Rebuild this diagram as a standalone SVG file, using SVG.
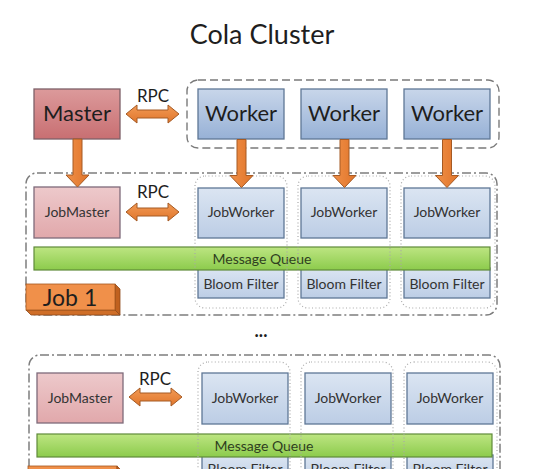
<svg xmlns="http://www.w3.org/2000/svg" width="536" height="469" viewBox="0 0 536 469">
<style>
text{font-family:Lato,"Open Sans","Liberation Sans",sans-serif;text-anchor:middle;fill:#1e1e1e}
.title{font-size:27px}
.big{font-size:22px}
.rpc{font-size:17px}
.sm{font-size:14px;fill:#333}
.job{font-size:23px;text-anchor:middle}
.master{fill:url(#gMaster);stroke:#7d6068;stroke-width:1.3}
.worker{fill:url(#gWorker);stroke:#5f7796;stroke-width:1.3}
.jm{fill:url(#gJM);stroke:#7e6a7a;stroke-width:1.3}
.jw{fill:url(#gJW);stroke:#5f7796;stroke-width:1.3}
.mq{fill:url(#gMQ);stroke:#5f8a3a;stroke-width:1.2}
.dash{fill:none;stroke:#7a7a7a;stroke-width:1.4;stroke-dasharray:8 4}
.dashdot{fill:none;stroke:#7d7d7d;stroke-width:1.5;stroke-dasharray:9 3 2 3}
.dot{fill:none;stroke:#a9a9a9;stroke-width:1.2;stroke-dasharray:1 2.4}
.arr{fill:url(#gArr);stroke:#a55a24;stroke-width:1}
</style>
<defs>
<linearGradient id="gMaster" x1="0" y1="0" x2="0" y2="1"><stop offset="0" stop-color="#dc9a9b"/><stop offset="1" stop-color="#c86f72"/></linearGradient>
<linearGradient id="gWorker" x1="0" y1="0" x2="0" y2="1"><stop offset="0" stop-color="#c8d6ea"/><stop offset="1" stop-color="#97b1d6"/></linearGradient>
<linearGradient id="gJM" x1="0" y1="0" x2="0" y2="1"><stop offset="0" stop-color="#edc9cb"/><stop offset="1" stop-color="#e1a8ab"/></linearGradient>
<linearGradient id="gJW" x1="0" y1="0" x2="0" y2="1"><stop offset="0" stop-color="#dbe5f2"/><stop offset="1" stop-color="#bccde5"/></linearGradient>
<linearGradient id="gMQ" x1="0" y1="0" x2="0" y2="1"><stop offset="0" stop-color="#bde582"/><stop offset="1" stop-color="#8ccb4c"/></linearGradient>
<linearGradient id="gArr" x1="0" y1="0" x2="0" y2="1"><stop offset="0" stop-color="#f29a55"/><stop offset="1" stop-color="#e0762c"/></linearGradient>
<linearGradient id="gArrV" x1="0" y1="0" x2="1" y2="0"><stop offset="0" stop-color="#f09048"/><stop offset="1" stop-color="#e0742a"/></linearGradient>
<path id="hArrow" d="M0,0 L11,-9 L11,-4 L42,-4 L42,-9 L53,0 L42,9 L42,4 L11,4 L11,9 Z"/>
<path id="vArrow" d="M-4.5,0 L4.5,0 L4.5,36 L11.5,36 L0,48 L-11.5,36 L-4.5,36 Z"/>
</defs>

<text class="title" x="262" y="44">Cola Cluster</text>

<g id="worker-group"><rect class="dash" x="187" y="80" width="312" height="68" rx="11"/></g>

<g id="master"><rect class="master" x="34" y="89" width="86" height="50"/><text class="big" x="77" y="121">Master</text></g>
<g id="worker1"><rect class="worker" x="198" y="89" width="86" height="50"/><text class="big" x="241" y="121">Worker</text></g>
<g id="worker2"><rect class="worker" x="301" y="89" width="86" height="50"/><text class="big" x="344" y="121">Worker</text></g>
<g id="worker3"><rect class="worker" x="404" y="89" width="86" height="50"/><text class="big" x="447" y="121">Worker</text></g>

<!-- Job 1 -->
<g id="job1-group"><rect class="dashdot" x="26" y="173" width="471" height="142" rx="11"/></g>
<g id="job1-master"><rect class="jm" x="34" y="187" width="86" height="51"/><text class="sm" x="77" y="217">JobMaster</text></g>
<g id="job1-worker1"><rect class="jw" x="198" y="188" width="86" height="50"/><text class="sm" x="241" y="217">JobWorker</text></g>
<g id="job1-worker2"><rect class="jw" x="301" y="188" width="86" height="50"/><text class="sm" x="344" y="217">JobWorker</text></g>
<g id="job1-worker3"><rect class="jw" x="404" y="188" width="86" height="50"/><text class="sm" x="447" y="217">JobWorker</text></g>
<g id="job1-bloom1"><rect class="jw" x="198" y="268" width="86" height="30"/><text class="sm" x="241" y="289">Bloom Filter</text></g>
<g id="job1-bloom2"><rect class="jw" x="301" y="268" width="86" height="30"/><text class="sm" x="344" y="289">Bloom Filter</text></g>
<g id="job1-bloom3"><rect class="jw" x="404" y="268" width="86" height="30"/><text class="sm" x="447" y="289">Bloom Filter</text></g>
<g id="job1-mq"><rect class="mq" x="34" y="247" width="456" height="23"/><text class="sm" x="262" y="264" style="fill:#2f3f1f">Message Queue</text></g>
<g id="job1-slots">
<rect class="dot" x="195" y="176" width="92" height="132" rx="10"/>
<rect class="dot" x="298" y="176" width="92" height="132" rx="10"/>
<rect class="dot" x="401" y="176" width="94" height="132" rx="10"/>
</g>
<g id="job1-label">
<path d="M115,284 L120,289 L120,315 L115,310 Z" fill="#c0611f" stroke="#8f4a1a" stroke-width="0.8"/>
<path d="M26,310 L115,310 L120,315 L31,315 Z" fill="#cf6e28" stroke="#8f4a1a" stroke-width="0.8"/>
<rect x="26" y="284" width="89" height="26" fill="#f0904a" stroke="#a5581f" stroke-width="0.8"/>
<text class="job" x="70" y="306">Job 1</text>
</g>

<text x="261" y="337" style="font-size:18px;font-weight:bold">...</text>

<!-- Job 2 -->
<g id="job2-group"><rect class="dashdot" x="29" y="355" width="471" height="142" rx="11"/></g>
<g id="job2-master"><rect class="jm" x="37" y="373" width="86" height="50"/><text class="sm" x="80" y="403">JobMaster</text></g>
<g id="job2-worker1"><rect class="jw" x="202" y="373" width="86" height="51"/><text class="sm" x="245" y="403">JobWorker</text></g>
<g id="job2-worker2"><rect class="jw" x="305" y="373" width="86" height="51"/><text class="sm" x="348" y="403">JobWorker</text></g>
<g id="job2-worker3"><rect class="jw" x="407" y="373" width="86" height="51"/><text class="sm" x="450" y="403">JobWorker</text></g>
<g id="job2-bloom1"><rect class="jw" x="202" y="455" width="86" height="30"/><text class="sm" x="245" y="474">Bloom Filter</text></g>
<g id="job2-bloom2"><rect class="jw" x="305" y="455" width="86" height="30"/><text class="sm" x="348" y="474">Bloom Filter</text></g>
<g id="job2-bloom3"><rect class="jw" x="407" y="455" width="86" height="30"/><text class="sm" x="450" y="474">Bloom Filter</text></g>
<g id="job2-mq"><rect class="mq" x="37" y="434" width="455" height="23"/><text class="sm" x="264" y="451" style="fill:#2f3f1f">Message Queue</text></g>
<g id="job2-slots">
<rect class="dot" x="198" y="362" width="92" height="132" rx="10"/>
<rect class="dot" x="301" y="362" width="92" height="132" rx="10"/>
<rect class="dot" x="404" y="362" width="93" height="132" rx="10"/>
</g>
<g id="job2-label">
<rect x="28" y="466" width="89" height="26" fill="#f0904a" stroke="#a5581f" stroke-width="0.8"/>
<path d="M117,466 L122,471 L122,497 L117,492 Z" fill="#c0611f" stroke="#8f4a1a" stroke-width="0.8"/>
</g>

<g id="connectors">
<text class="rpc" x="153" y="102">RPC</text>
<use href="#hArrow" class="arr" transform="translate(126,114)"/>
<text class="rpc" x="153" y="198">RPC</text>
<use href="#hArrow" class="arr" transform="translate(126,212)"/>
<text class="rpc" x="155" y="385">RPC</text>
<use href="#hArrow" class="arr" transform="translate(129,397)"/>
<use href="#vArrow" class="arr" style="fill:url(#gArrV)" transform="translate(77.5,139)"/>
<use href="#vArrow" class="arr" style="fill:url(#gArrV)" transform="translate(241.5,139.5)"/>
<use href="#vArrow" class="arr" style="fill:url(#gArrV)" transform="translate(344.5,139.5)"/>
<use href="#vArrow" class="arr" style="fill:url(#gArrV)" transform="translate(447,139.5)"/>
</g>
</svg>
